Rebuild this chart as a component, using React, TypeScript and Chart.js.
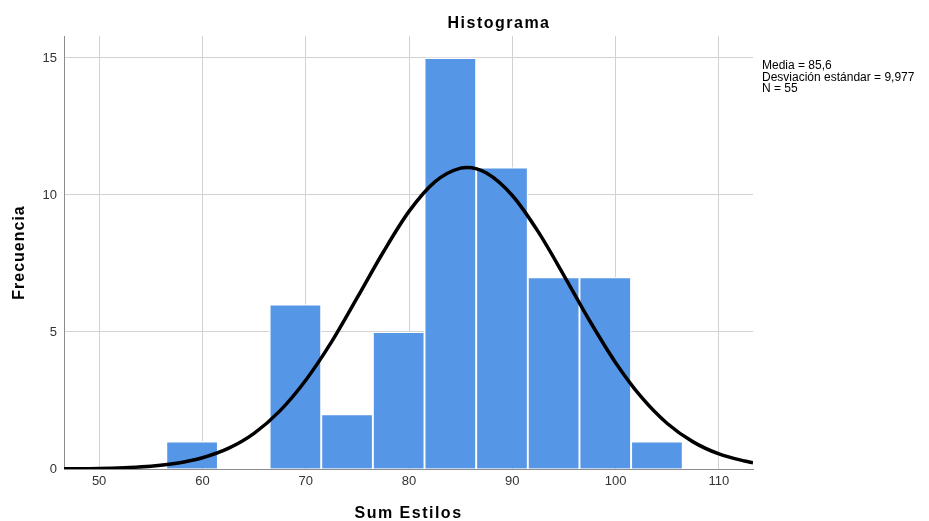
import { useEffect, useRef } from "react";
import { Chart, registerables } from "chart.js";

Chart.register(...registerables);

// ---- data ----
const chartTitle = "Histograma";
const xAxisTitle = "Sum Estilos";
const yAxisTitle = "Frecuencia";
const statsLines = ["Media = 85,6", "Desviación estándar = 9,977", "N = 55"];

const binCenters = [59, 64, 69, 74, 79, 84, 89, 94, 99, 104];
const frequencies = [1, 0, 6, 2, 5, 15, 11, 7, 7, 1];

const curveX = [46.6, 50, 52.5, 55, 57.5, 60, 62.5, 65, 67.5, 70, 72.5, 75, 77.5, 80, 82.5, 85, 85.6, 87.5, 90, 92.5, 95, 97.5, 100, 102.5, 105, 107.5, 110, 112.5, 113.3];
const curveY = [0.01, 0.02, 0.05, 0.1, 0.21, 0.41, 0.75, 1.3, 2.12, 3.24, 4.64, 6.26, 7.91, 9.4, 10.48, 10.98, 11.0, 10.8, 9.98, 8.66, 7.06, 5.4, 3.88, 2.62, 1.66, 0.99, 0.55, 0.29, 0.23];

const xTicks = [50, 60, 70, 80, 90, 100, 110];
const yTicks = [0, 5, 10, 15];
const xMin = 46.6;
const xMax = 113.3;
const yMax = 15.8;

const FONT = "'Liberation Sans', Arial, Helvetica, sans-serif";

const textPlugin = {
  id: "spssText",
  afterDraw(chart: any) {
    const ctx = chart.ctx as CanvasRenderingContext2D;
    const a = chart.chartArea;
    ctx.save();
    ctx.fillStyle = "#000";
    ctx.textBaseline = "alphabetic";

    // title
    ctx.font = `bold 16px ${FONT}`;
    (ctx as any).letterSpacing = "1.5px";
    ctx.textAlign = "center";
    ctx.fillText(chartTitle, 499, 27.5);

    // x axis title
    ctx.fillText(xAxisTitle, (a.left + a.right) / 2, 518);

    // y axis title
    ctx.save();
    (ctx as any).letterSpacing = "1px";
    ctx.translate(24, (a.top + a.bottom) / 2);
    ctx.rotate(-Math.PI / 2);
    ctx.fillText(yAxisTitle, 0, 0);
    ctx.restore();

    // stats
    (ctx as any).letterSpacing = "0px";
    ctx.font = `12px ${FONT}`;
    ctx.textAlign = "left";
    statsLines.forEach((s, i) => ctx.fillText(s, a.right + 9, 69 + i * 11.5));
    ctx.restore();
  },
};

export default function App() {
  const ref = useRef<HTMLCanvasElement | null>(null);

  useEffect(() => {
    document.body.style.margin = "0";
    const canvas = ref.current;
    if (!canvas) return;
    const chart = new Chart(canvas, {
      type: "bar",
      data: {
        datasets: [
          {
            type: "line",
            data: curveX.map((x, i) => ({ x, y: curveY[i] })),
            borderColor: "#000",
            borderWidth: 3.5,
            pointRadius: 0,
            cubicInterpolationMode: "monotone",
            fill: false,
            order: 0,
          } as any,
          {
            type: "bar",
            data: binCenters.map((x, i) => ({ x, y: frequencies[i] })),
            backgroundColor: "rgb(86,150,230)",
            borderColor: "#ffffff",
            borderWidth: 1.3,
            borderSkipped: "start",
            barPercentage: 1,
            categoryPercentage: 1,
            order: 1,
          } as any,
        ],
      },
      options: {
        animation: false,
        responsive: true,
        maintainAspectRatio: false,
        layout: { padding: { left: 0, right: 176, top: 36, bottom: 0 } },
        plugins: { legend: { display: false }, tooltip: { enabled: false }, title: { display: false } },
        scales: {
          x: {
            type: "linear",
            min: xMin,
            max: xMax,
            offset: false,
            afterBuildTicks: (s: any) => {
              s.ticks = xTicks.map((v) => ({ value: v }));
            },
            afterFit: (s: any) => {
              s.height = 52;
            },
            grid: { color: "#d2d2d2", lineWidth: 1, drawTicks: false, offset: false },
            border: { display: true, color: "#8c8c8c", width: 1 },
            ticks: { padding: 5, color: "#333", font: { family: FONT, size: 13 }, maxRotation: 0 },
          },
          y: {
            type: "linear",
            min: 0,
            max: yMax,
            afterBuildTicks: (s: any) => {
              s.ticks = yTicks.map((v) => ({ value: v }));
            },
            afterFit: (s: any) => {
              s.width = 64;
            },
            grid: { color: "#d2d2d2", lineWidth: 1, drawTicks: false },
            border: { display: true, color: "#8c8c8c", width: 1 },
            ticks: { padding: 7, color: "#333", font: { family: FONT, size: 13 } },
          },
        },
      },
      plugins: [textPlugin],
    });
    return () => chart.destroy();
  }, []);

  return (
    <div style={{ width: 929, height: 521, position: "relative" }}>
      <canvas ref={ref} />
    </div>
  );
}
